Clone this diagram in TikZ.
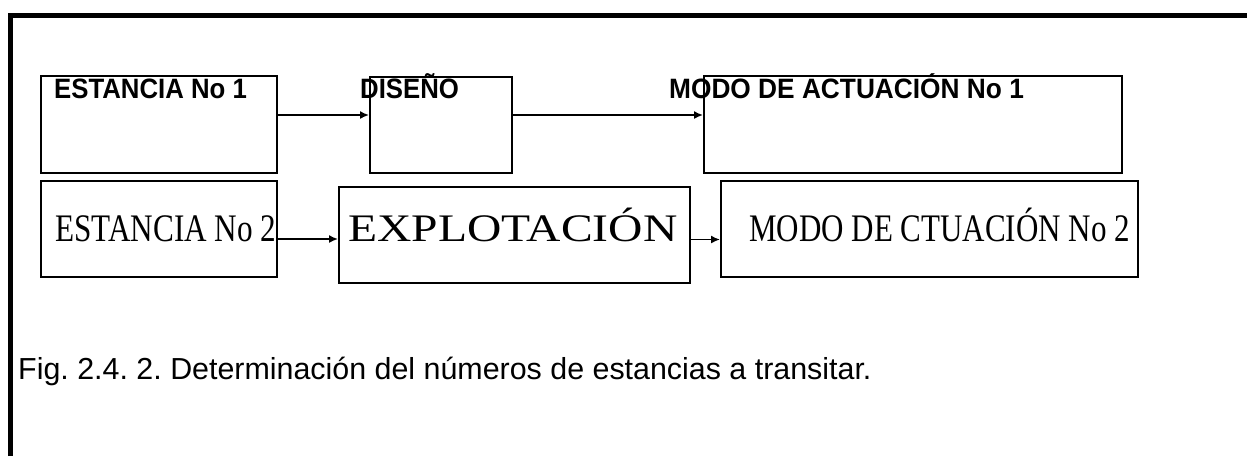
\documentclass[tikz,border=0pt]{standalone}
\usepackage{fontspec}
\setmainfont{Liberation Serif}
\setsansfont{Liberation Sans}
\usetikzlibrary{shapes,arrows,arrows.meta}
\frenchspacing

\begin{document}
\begin{tikzpicture}[x=1pt,y=-1pt,
  caja/.style={draw,line width=2pt,inner sep=0pt,anchor=north west},
  rotA/.style={font=\sffamily\bfseries\fontsize{28}{30}\selectfont,inner sep=0pt,anchor=base west,xscale=0.92},
  rotB/.style={font=\rmfamily\fontsize{39}{41}\selectfont,inner sep=0pt,anchor=base west},
  flecha/.style={-{Latex[length=9pt,width=8pt]},line width=1.6pt}]
\useasboundingbox (0,0) rectangle (1247,456);
\draw[line width=5pt] (10.5,456) -- (10.5,15.5) -- (1247,15.5);
% primera fila
\node[caja,minimum width=236pt,minimum height=97pt] (E1) at (40,75) {};
\node[caja,minimum width=142pt,minimum height=96pt] (D) at (369,76) {};
\node[caja,minimum width=418pt,minimum height=97pt] (M1) at (703,75) {};
\node[rotA] (tE1) at (54,98) {ESTANCIA No 1};
\node[rotA] (tD) at (360,98) {DISEÑO};
\node[rotA,xscale=1.02] (tM1) at (669,98) {MODO DE ACTUACIÓN No 1};
% segunda fila
\node[caja,minimum width=236pt,minimum height=96pt] (E2) at (40,180) {};
\node[caja,minimum width=351pt,minimum height=96pt] (X) at (338,186) {};
\node[caja,minimum width=417pt,minimum height=96pt] (M2) at (720,180) {};
\node[rotB,xscale=0.8] (tE2) at (55,241) {ESTANCIA No 2};
\node[rotB,xscale=1.22] (tX) at (348,241) {EXPLOTACIÓN};
\node[rotB,xscale=0.795] (tM2) at (749,241) {MODO DE CTUACIÓN No 2};
% flechas
\draw[flecha] ([yshift=9.5pt]E1.east) -- ([yshift=9.5pt]E1.east -| D.west);
\draw[flecha] ([yshift=10pt]D.east) -- ([yshift=10pt]D.east -| M1.west);
\draw[flecha] ([yshift=-10pt]E2.east) -- ([yshift=-10pt]E2.east -| X.west);
\draw[flecha] ([yshift=-4.5pt]X.east) -- ([yshift=-4.5pt]X.east -| M2.west);
\node[font=\sffamily\fontsize{30.4}{32}\selectfont,inner sep=0pt,anchor=base west] (pie) at (18,379)
  {Fig. 2.4. 2. Determinación del números de estancias a transitar.};
\end{tikzpicture}
\end{document}
